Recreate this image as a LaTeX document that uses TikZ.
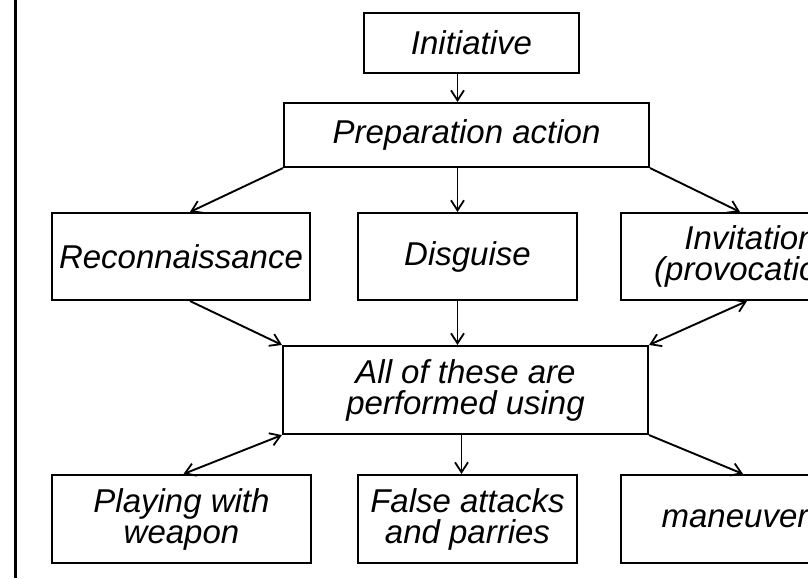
\documentclass[tikz,border=0pt]{standalone}
\usepackage{fontspec}
\setmainfont{Liberation Sans}
\usetikzlibrary{arrows.meta,calc}
\begin{document}
\begin{tikzpicture}[x=1pt,y=-1pt,
  box/.style={draw,line width=2.1pt,rectangle,inner sep=0pt,align=center,
    font=\fontsize{33}{31}\selectfont\itshape},
  tip/.style={Straight Barb[length=10pt,width=13pt,line width=1.8pt]},
  arr/.style={line width=1.9pt,-{Straight Barb[length=10pt,width=13pt,line width=1.8pt]}},
  darr/.style={line width=1.9pt,{Straight Barb[length=10pt,width=13pt,line width=1.8pt]}-{Straight Barb[length=10pt,width=13pt,line width=1.8pt]}}]
\clip (0,0) rectangle (808,578);
\fill[white] (0,0) rectangle (808,578);
\draw[line width=3pt] (15,0) -- (15,578);
% boxes
\node[box,minimum width=215pt,minimum height=60pt] (init) at (471.5,43) {Initiative};
\node[box,minimum width=365pt,minimum height=64pt] (prep) at (466.5,135) {Preparation action};
\node[box,minimum width=258pt,minimum height=87pt] (recon) at (181,256.5) {Reconnaissance};
\node[box,minimum width=219pt,minimum height=87pt] (disg) at (467.5,256.5) {Disguise};
\node[box,minimum width=259pt,minimum height=87pt] (invit) at (750.5,256.5) {Invitation\\(provocation)};
\node[box,minimum width=365pt,minimum height=88pt] (mid) at (465.5,390) {All of these are\\performed using};
\node[box,minimum width=259pt,minimum height=88pt] (play) at (181.5,519) {Playing with\\weapon};
\node[box,minimum width=219pt,minimum height=88pt] (false) at (467.5,519) {False attacks\\and parries};
\node[box,minimum width=228pt,minimum height=88pt] (man) at (735,519) {maneuver};
% connectors
\draw[arr] ([xshift=-14pt]init.south) -- ([xshift=-14pt]init.south |- prep.north);
\draw[arr] (prep.south west) -- ([xshift=9pt]recon.north);
\draw[arr] ([xshift=-10pt]disg.north |- prep.south) -- ([xshift=-10pt]disg.north);
\draw[arr] (prep.south east) -- ([xshift=-10.5pt]invit.north);
\draw[arr] ([xshift=9pt]recon.south) -- (mid.north west);
\draw[arr] ([xshift=-10pt]disg.south) -- ([xshift=-10pt]disg.south |- mid.north);
\draw[darr] (mid.north east) -- ([xshift=-3.5pt]invit.south);
\draw[darr] (mid.south west) -- ([xshift=2pt]play.north);
\draw[arr] ([xshift=-6pt]false.north |- mid.south) -- ([xshift=-6pt]false.north);
\draw[arr] (mid.south east) -- ([xshift=8pt]man.north);
\end{tikzpicture}
\end{document}
